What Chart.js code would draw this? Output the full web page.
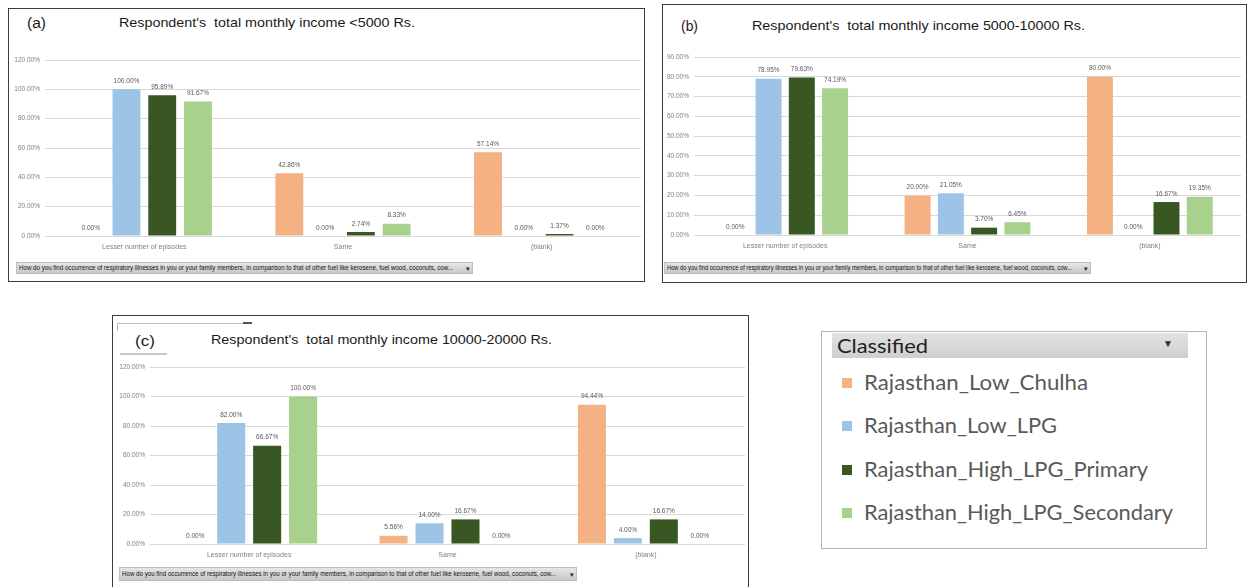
<!DOCTYPE html>
<html>
<head>
<meta charset="utf-8">
<script src="https://cdn.jsdelivr.net/npm/chart.js@4.4.1/dist/chart.umd.min.js"></script>
<style>
body{margin:0;width:1247px;height:587px;background:#fff;position:relative;overflow:hidden;font-family:"Liberation Sans",Arial,sans-serif;}
.box{position:absolute;border:1.5px solid #3c3c3c;box-sizing:border-box;}
.txt{position:absolute;white-space:pre;line-height:1;transform-origin:0 50%;}
canvas{position:absolute;}
.filtro{position:absolute;background:linear-gradient(#e6e6e6,#c8c8c8);border:1px solid #bdbdbd;box-sizing:border-box;}
.linea{position:absolute;background:#bfbfbf;}
</style>
</head>
<body>

<div class="box" style="left:8px;top:8px;width:637px;height:274px;"></div>
<div class="box" style="left:662px;top:4px;width:585px;height:279px;"></div>
<div class="box" style="left:112px;top:315px;width:637px;height:280px;"></div>

<!-- marcas raras del recorte (c) -->
<div class="linea" style="left:117px;top:323px;width:133px;height:1px;"></div>
<div class="linea" style="left:243px;top:322px;width:9px;height:2px;background:#555;"></div>
<div class="linea" style="left:117px;top:323px;width:1px;height:8px;"></div>
<div class="linea" style="left:120px;top:353px;width:47px;height:2px;background:#c8c8c8;"></div>

<div class="filtro" style="left:16px;top:262px;width:457px;height:12px;"></div>
<div class="filtro" style="left:664px;top:262px;width:427px;height:12px;"></div>
<div class="filtro" style="left:119px;top:567px;width:458px;height:14px;"></div>

<canvas id="graficoA" width="637" height="206" style="left:8px;top:50px;"></canvas>
<canvas id="graficoB" width="583" height="208" style="left:662px;top:47px;"></canvas>
<canvas id="graficoC" width="636" height="207" style="left:112px;top:357px;"></canvas>

<!-- leyenda -->
<div style="position:absolute;left:821px;top:331px;width:386px;height:218px;border:1px solid #a9b8c8;box-sizing:border-box;"></div>
<div style="position:absolute;left:832px;top:333px;width:356px;height:25px;background:linear-gradient(#e2e2e2,#cfcfcf);"></div>

<script>
// datos
const categorias = ["Lesser number of episodes", "Same", "(blank)"];
const series = ["Rajasthan_Low_Chulha", "Rajasthan_Low_LPG", "Rajasthan_High_LPG_Primary", "Rajasthan_High_LPG_Secondary"];
const colores = ["#F4B183", "#9DC3E6", "#385723", "#A9D18E"];

// (a) ingreso < 5000
const chulhaA = [0, 42.86, 57.14];
const lowLpgA = [100, 0, 0];
const primaryA = [95.89, 2.74, 1.37];
const secondaryA = [91.67, 8.33, 0];

// (b) ingreso 5000-10000
const chulhaB = [0, 20.00, 80.00];
const lowLpgB = [78.95, 21.05, 0];
const primaryB = [79.63, 3.70, 16.67];
const secondaryB = [74.19, 6.45, 19.35];

// (c) ingreso 10000-20000
const chulhaC = [0, 5.56, 94.44];
const lowLpgC = [82.00, 14.00, 4.00];
const primaryC = [66.67, 16.67, 16.67];
const secondaryC = [100, 0, 0];

const ejeMaxA = 120, pasoA = 20;
const ejeMaxB = 90, pasoB = 10;
const ejeMaxC = 120, pasoC = 20;

const titulos = ["Respondent's  total monthly income <5000 Rs.",
                 "Respondent's  total monthly income 5000-10000 Rs.",
                 "Respondent's  total monthly income 10000-20000 Rs."];
const textoFiltro = "How do you find occurrence of respiratory illnesses in you or your family members, in comparison to that of other fuel like kerosene, fuel wood, coconuts, cow...";

const fuenteChica = '"Liberation Sans Narrow", "Arial Narrow", Arial, sans-serif';

/*
* Etiquetas de valor encima de cada barra
*/
const etiquetasPlugin = {
    id: 'etiquetas',
    afterDatasetsDraw(chart) {
        let ctx = chart.ctx;
        ctx.save();
        ctx.font = '6.5px ' + fuenteChica;
        ctx.fillStyle = '#595959';
        ctx.textAlign = 'center';
        ctx.textBaseline = 'bottom';
        chart.data.datasets.forEach(function (ds, i) {
            chart.getDatasetMeta(i).data.forEach(function (barra, j) {
                ctx.fillText(ds.data[j].toFixed(2) + '%', barra.x, barra.y - 5);
            });
        });
        ctx.restore();
    }
};

function crearGrafico(id, valores, maxY, paso, anchoY, padTop, padRight, altoX, catPct)
{
    let ctx = document.getElementById(id).getContext('2d');
    return new Chart(ctx, {
        type: 'bar',
        data: {
            labels: categorias,
            datasets: valores.map(function (v, i) {
                return {
                    label: series[i],
                    data: v,
                    backgroundColor: colores[i],
                    borderWidth: 0,
                    categoryPercentage: catPct,
                    barPercentage: 0.78
                };
            })
        },
        options: {
            responsive: false,
            animation: false,
            layout: { padding: { top: padTop, right: padRight, left: 0, bottom: 0 } },
            plugins: { legend: { display: false }, tooltip: { enabled: false } },
            scales: {
                x: {
                    grid: { display: false, drawTicks: false },
                    border: { display: false },
                    ticks: { color: '#7f7f7f', font: { size: 7, family: fuenteChica }, padding: 7 },
                    afterFit: function (s) { s.height = altoX; }
                },
                y: {
                    min: 0,
                    max: maxY,
                    grid: { color: '#d9d9d9', drawTicks: false, lineWidth: 1 },
                    border: { display: false },
                    ticks: {
                        stepSize: paso,
                        color: '#7f7f7f',
                        padding: 5,
                        font: { size: 6.5, family: fuenteChica },
                        callback: function (v) { return v.toFixed(2) + '%'; }
                    },
                    afterFit: function (s) { s.width = anchoY; }
                }
            }
        },
        plugins: [etiquetasPlugin]
    });
}

crearGrafico('graficoA', [chulhaA, lowLpgA, primaryA, secondaryA], ejeMaxA, pasoA, 37, 10, 4, 20, 0.72);
crearGrafico('graficoB', [chulhaB, lowLpgB, primaryB, secondaryB], ejeMaxB, pasoB, 32, 10, 4, 20, 0.73);
crearGrafico('graficoC', [chulhaC, lowLpgC, primaryC, secondaryC], ejeMaxC, pasoC, 38, 10, 3, 20, 0.725);

/*
* Textos sueltos
*/
function texto(t, x, yc, size, color, ancho, familia)
{
    let s = document.createElement('span');
    s.className = 'txt';
    s.textContent = t;
    s.style.left = x + 'px';
    s.style.top = (yc - size / 2) + 'px';
    s.style.fontSize = size + 'px';
    s.style.color = color;
    if (familia) s.style.fontFamily = familia;
    document.body.appendChild(s);
    if (ancho) {
        let w = s.getBoundingClientRect().width;
        s.style.transform = 'scaleX(' + (ancho / w) + ')';
    }
    return s;
}

texto("(a)", 27, 23, 14, '#1a1a1a', 19);
texto(titulos[0], 119, 23, 13.5, '#1a1a1a', 296);
texto("(b)", 681, 26, 14, '#1a1a1a', 17);
texto(titulos[1], 752, 26, 13.5, '#1a1a1a', 333);
texto("(c)", 135, 340, 15, '#1a1a1a', 20);
texto(titulos[2], 211, 340, 13.5, '#1a1a1a', 341);

texto(textoFiltro, 19, 268, 6.5, '#111', 434, fuenteChica);
texto("\u25BE", 466, 268, 7, '#222');
texto(textoFiltro, 667, 268, 6.5, '#111', 405, fuenteChica);
texto("\u25BE", 1084, 268, 7, '#222');
texto(textoFiltro, 122, 574, 6.5, '#111', 434, fuenteChica);
texto("\u25BE", 570, 574, 7, '#222');

// leyenda
const fuenteLeyenda = 'Lato, "Noto Sans", sans-serif';
texto("Classified", 837, 345, 20, '#222', 91, fuenteLeyenda);
texto("\u25BC", 1163, 344, 10, '#333');
const yLeyenda = [383, 426, 470, 513];
const anchoLeyenda = [224, 193, 284, 309];
series.forEach(function (nombre, i) {
    let c = document.createElement('div');
    c.style.cssText = 'position:absolute;width:10px;height:10px;left:842px;top:' + (yLeyenda[i] - 5) + 'px;background:' + colores[i] + ';';
    document.body.appendChild(c);
    texto(nombre, 864, yLeyenda[i], 21.5, '#595959', anchoLeyenda[i], fuenteLeyenda);
});
</script>
</body>
</html>
